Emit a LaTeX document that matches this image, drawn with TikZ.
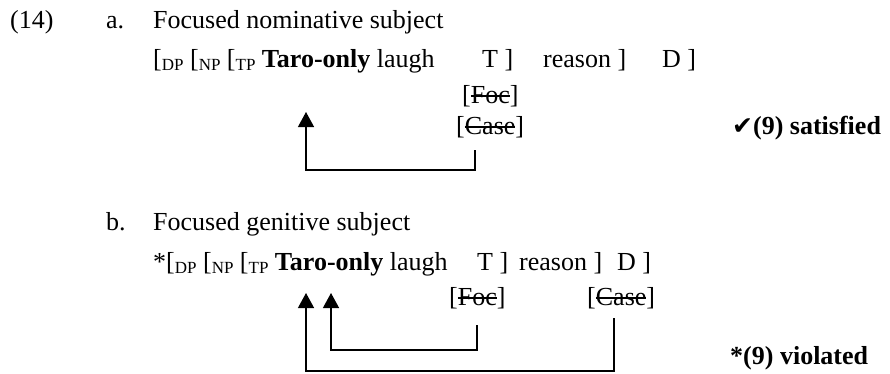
\documentclass[tikz,border=0pt]{standalone}
\usepackage{fontspec}
\setmainfont{Liberation Serif}
\newfontfamily\symfont{DejaVu Sans}
\usetikzlibrary{arrows.meta}
\newsavebox\strkbox
\newcommand\strk[1]{\sbox\strkbox{#1}\rlap{\rule[6.5pt]{\wd\strkbox}{1.2pt}}\usebox\strkbox}
\newcommand\lsub[1]{\raisebox{-3pt}{\fontsize{17}{17}\selectfont #1}}
\begin{document}
\begin{tikzpicture}[x=1pt,y=-1pt,
  txt/.style={anchor=base west, inner sep=0pt, font=\fontsize{26}{31}\selectfont},
  link/.style={line width=1.3pt, -{Triangle[width=16pt,length=15pt]}}]
\useasboundingbox (0,0) rectangle (890,373);
% block a
\node[txt] (n14) at (10,28) {(14)};
\node[txt] (la) at (106,28) {a.};
\node[txt] (ta) at (153,28) {Focused nominative subject};
\node[txt] (sa) at (153,67) {[\lsub{DP} [\lsub{NP} [\lsub{TP} \textbf{Taro-only} laugh};
\node[txt] (Ta) at (482,67) {T ]};
\node[txt] (ra) at (543,67) {reason ]};
\node[txt] (Da) at (662,67) {D ]};
\node[txt] (foca) at (462,103) {[\strk{Foc}]};
\node[txt] (casea) at (456,134) {[\strk{Case}]};
\node[txt] (oka) at (732,134) {{\symfont\fontsize{25}{25}\selectfont ✔}\textbf{(9) satisfied}};
\coordinate (tipa) at (306,112);
\coordinate (srca) at (475,150);
\coordinate (corna) at (306,170);
\draw[link] (srca) |- (corna) -- (tipa);
% block b
\node[txt] (lb) at (106,230) {b.};
\node[txt] (tb) at (153,230) {Focused genitive subject};
\node[txt] (sb) at (153,270) {*[\lsub{DP} [\lsub{NP} [\lsub{TP} \textbf{Taro-only} laugh};
\node[txt] (Tb) at (477,270) {T ]};
\node[txt] (rb) at (519,270) {reason ]};
\node[txt] (Db) at (617,270) {D ]};
\node[txt] (focb) at (449,305) {[\strk{Foc}]};
\node[txt] (caseb) at (587,305) {[\strk{Case}]};
\node[txt] (badb) at (730,364) {\textbf{*(9) violated}};
\coordinate (tipb1) at (306,293);
\coordinate (tipb2) at (331,293);
\coordinate (srcb1) at (477,325);
\coordinate (srcb2) at (614,318);
\coordinate (cornb1) at (331,350);
\coordinate (cornb2) at (306,371);
\draw[link] (srcb1) |- (cornb1) -- (tipb2);
\draw[link] (srcb2) |- (cornb2) -- (tipb1);
\end{tikzpicture}
\end{document}
